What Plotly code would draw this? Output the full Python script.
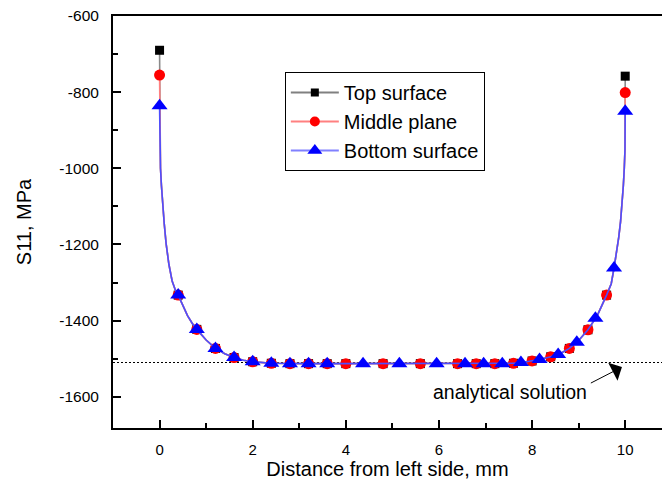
import plotly.graph_objects as go

# Stress S11 along the plate, sampled at mesh nodes (x in mm, S11 in MPa)
x_nodes = [0, 0.005, 0.02, 0.04, 0.07, 0.1, 0.14, 0.2, 0.27, 0.34, 0.4, 0.5, 0.6,
           0.7, 0.8, 1.0, 1.2, 1.4, 1.6, 1.8, 2.0, 2.4, 2.8, 3.2, 3.6, 4.0, 4.4,
           4.8, 5.2, 5.6, 6.0, 6.4, 6.8, 7.2, 7.6, 7.8, 8.0, 8.2, 8.4, 8.6, 8.8,
           9.0, 9.2, 9.4, 9.6, 9.7, 9.76, 9.8, 9.86, 9.9, 9.93, 9.96, 9.98,
           9.995, 10]

# interior nodes are shared by the three through-thickness positions
interior_s11 = [-950, -1000, -1045, -1100, -1145, -1197, -1252, -1296, -1320,
                -1333, -1362, -1387, -1407, -1423, -1451, -1473, -1487, -1497,
                -1504, -1508, -1512, -1513, -1513, -1513, -1513, -1513, -1513,
                -1513, -1513, -1513, -1513, -1513, -1513, -1512, -1510, -1506,
                -1501, -1495, -1487, -1473, -1452, -1424, -1387, -1333, -1303,
                -1262, -1232, -1182, -1140, -1098, -1045, -1000, -950]

# edge values (left, right) for each surface
top_edges = [-690, -758]
middle_edges = [-755, -801]
bottom_edges = [-836, -850]

top_s11 = [top_edges[0], *interior_s11, top_edges[1]]
middle_s11 = [middle_edges[0], *interior_s11, middle_edges[1]]
bottom_s11 = [bottom_edges[0], *interior_s11, bottom_edges[1]]

# symbol positions
top_mark_x = [0, 0.4, 0.8, 1.2, 1.6, 2.0, 2.4, 2.8, 3.2, 3.6, 4.0, 4.8, 5.6, 6.4,
              6.8, 7.2, 7.6, 8.0, 8.4, 8.8, 9.2, 9.6, 10]
top_mark_y = [-690, -1333, -1423, -1473, -1497, -1508, -1512, -1513, -1513, -1513,
              -1513, -1513, -1513, -1513, -1513, -1513, -1512, -1506, -1495, -1473,
              -1424, -1333, -758]
middle_mark_x = top_mark_x
middle_mark_y = [-755, -1333, -1423, -1473, -1497, -1508, -1512, -1513, -1513, -1513,
                 -1513, -1513, -1513, -1513, -1513, -1513, -1512, -1506, -1495, -1473,
                 -1424, -1333, -801]
bottom_mark_x = [0, 0.4, 0.8, 1.2, 1.6, 2.0, 2.4, 2.8, 3.2, 3.6, 4.37, 5.15, 5.95,
                 6.56, 6.96, 7.36, 7.76, 8.16, 8.56, 8.96, 9.36, 9.76, 10]
bottom_mark_y = [-836, -1333, -1423, -1473, -1497, -1508, -1512, -1513, -1513, -1513,
                 -1513, -1513, -1513, -1513, -1513, -1513, -1510, -1502, -1489, -1457,
                 -1394, -1262, -850]

analytical_s11 = -1510

x_ticks = [0, 2, 4, 6, 8, 10]
y_ticks = [-1600, -1400, -1200, -1000, -800, -600]
y_tick_labels = ["-1600", "-1400", "-1200", "-1000", "-800", "-600"]

series = [
    ("Top surface", top_s11, top_mark_x, top_mark_y, "#000000", "#8a8a8a", "square", 9),
    ("Middle plane", middle_s11, middle_mark_x, middle_mark_y, "#ff0000", "#ff8080", "circle", 11),
    ("Bottom surface", bottom_s11, bottom_mark_x, bottom_mark_y, "#0000ff", "#4d4dff", "triangle-up", 14),
]

fig = go.Figure()
for name, ys, mx, my, col, lcol, sym, size in series:
    fig.add_trace(go.Scatter(x=x_nodes, y=ys, mode="lines", showlegend=False,
                             line=dict(color=lcol, width=1.6), hoverinfo="skip"))
    fig.add_trace(go.Scatter(x=mx, y=my, mode="markers", showlegend=False,
                             marker=dict(color=col, symbol=sym, size=size,
                                         line=dict(width=0)), name=name))

# legend entries (line + symbol)
legend_line = {"Top surface": "#808080", "Middle plane": "#ff8080", "Bottom surface": "#8080ff"}
for name, ys, mx, my, col, lcol, sym, size in series:
    fig.add_trace(go.Scatter(x=[None], y=[None], mode="lines+markers", name=name,
                             line=dict(color=legend_line[name], width=2),
                             marker=dict(color=col, symbol=sym, size=size - 1,
                                         line=dict(width=0))))

fig.add_shape(type="line", xref="paper", yref="y", x0=0, x1=1,
              y0=analytical_s11, y1=analytical_s11, layer="below",
              line=dict(color="#000000", width=1, dash="2px,2px"))

fig.add_annotation(x=7.52, y=-1587, xref="x", yref="y", text="analytical solution",
                   showarrow=False, font=dict(size=19.5, color="#000000"))
fig.add_annotation(x=9.93, y=-1522, xref="x", yref="y", ax=9.23, ay=-1566,
                   axref="x", ayref="y", text="", showarrow=True,
                   arrowhead=1, arrowsize=3.4, arrowwidth=1, arrowcolor="#000000")

font_family = "Arial, Liberation Sans, sans-serif"
fig.update_layout(
    width=662, height=486,
    margin=dict(l=113, r=0, t=16, b=58),
    paper_bgcolor="white", plot_bgcolor="white",
    font=dict(family=font_family, color="#000000"),
    legend=dict(x=0.313, y=0.864, xanchor="left", yanchor="top",
                bordercolor="#000000", borderwidth=1, bgcolor="white",
                font=dict(size=20), tracegroupgap=0, itemwidth=48),
    xaxis=dict(range=[-1, 10.79], tickvals=x_ticks,
               ticks="inside", ticklen=8, tickwidth=1.5, tickcolor="#000000",
               showline=True, linewidth=2, linecolor="#000000", mirror=True,
               showgrid=False, zeroline=False, tickfont=dict(size=15),
               ticklabelstandoff=7,
               minor=dict(tickvals=[1, 3, 5, 7, 9], ticks="inside", ticklen=5,
                          tickwidth=1.5, tickcolor="#000000", showgrid=False),
               title=dict(text="Distance from left side, mm", font=dict(size=20),
                          standoff=5)),
    yaxis=dict(range=[-1682, -600], tickvals=y_ticks, ticktext=y_tick_labels,
               ticks="inside", ticklen=8, tickwidth=1.5, tickcolor="#000000",
               showline=True, linewidth=2, linecolor="#000000",
               showgrid=False, zeroline=False, tickfont=dict(size=15.5),
               ticklabelstandoff=9,
               minor=dict(tickvals=[-1500, -1300, -1100, -900, -700], ticks="inside",
                          ticklen=5, tickwidth=1.5, tickcolor="#000000", showgrid=False),
               title=dict(text="S11, MPa", font=dict(size=20), standoff=22)),
)

fig.write_html("out.html")
